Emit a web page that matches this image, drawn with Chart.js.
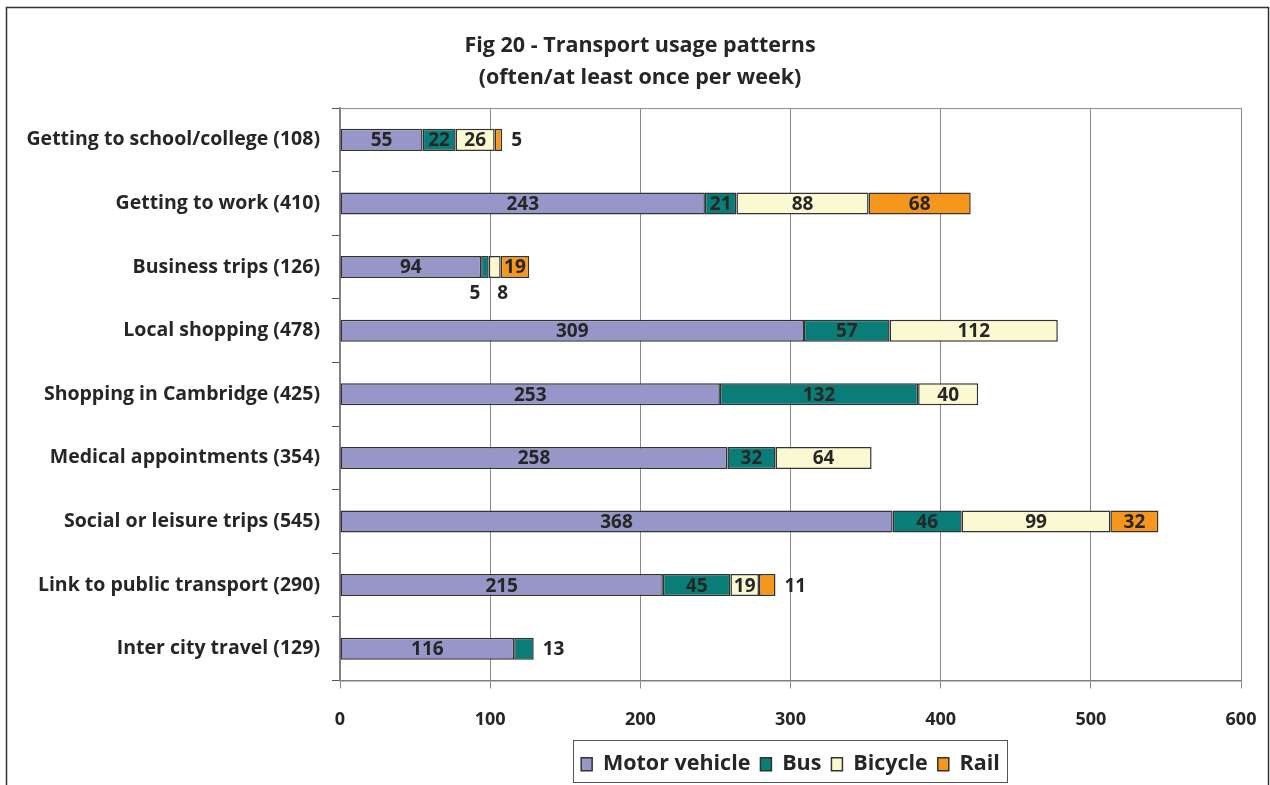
<!DOCTYPE html>
<html><head><meta charset="utf-8">
<script src="https://cdn.jsdelivr.net/npm/chart.js@4.4.0/dist/chart.umd.min.js"></script>
<style>html,body{margin:0;padding:0;background:#fff}#wrap{width:1270px;height:785px;position:relative}</style>
</head><body><div id="wrap"><canvas id="c" width="1270" height="785"></canvas></div>
<script>
const categories = [
  'Getting to school/college (108)',
  'Getting to work (410)',
  'Business trips (126)',
  'Local shopping (478)',
  'Shopping in Cambridge (425)',
  'Medical appointments (354)',
  'Social or leisure trips (545)',
  'Link to public transport (290)',
  'Inter city travel (129)'
];
const motorVehicle = [55, 243, 94, 309, 253, 258, 368, 215, 116];
const bus          = [22, 21, 5, 57, 132, 32, 46, 45, 13];
const bicycle      = [26, 88, 8, 112, 40, 64, 99, 19, null];
const rail         = [5, 68, 19, null, null, null, 32, 11, null];
const xTicks = [0, 100, 200, 300, 400, 500, 600];
const titleLines = ['Fig 20 - Transport usage patterns', '(often/at least once per week)'];

const FONT = '"Open Sans", Lato, sans-serif';
const TXT = '#262626';

const barLabels = {
  id: 'barLabels',
  afterDatasetsDraw(chart) {
    const ctx = chart.ctx;
    ctx.save();
    ctx.font = 'bold 19px ' + FONT;
    ctx.fillStyle = TXT;
    ctx.textBaseline = 'middle';
    const n = chart.data.datasets.length;
    const below = {};
    chart.data.datasets.forEach((ds, i) => {
      const meta = chart.getDatasetMeta(i);
      meta.data.forEach((bar, j) => {
        const v = ds.data[j];
        if (v == null) return;
        const p = bar.getProps(['x', 'base', 'y', 'height'], true);
        const w = Math.abs(p.x - p.base);
        const txt = String(v);
        const tw = ctx.measureText(txt).width;
        if (w >= tw + 6) {
          ctx.textAlign = 'center';
          ctx.fillText(txt, (p.x + p.base) / 2, p.y + 1);
          return;
        }
        let isLast = true;
        for (let k = i + 1; k < n; k++) if (chart.data.datasets[k].data[j] != null) isLast = false;
        if (isLast) {
          ctx.textAlign = 'left';
          ctx.fillText(txt, p.x + 9, p.y + 1);
        } else {
          (below[j] = below[j] || []).push({txt, cx: (p.x + p.base) / 2, y: p.y + p.height / 2 + 16});
        }
      });
    });
    Object.values(below).forEach(list => {
      list.forEach((it, k) => {
        let off = 0;
        if (list.length > 1) off = k === 0 ? -10 : 8;
        ctx.textAlign = 'center';
        ctx.fillText(it.txt, it.cx + off, it.y);
      });
    });
    ctx.restore();
  }
};

const frame = {
  id: 'frame',
  beforeDraw(chart) {
    const ctx = chart.ctx;
    ctx.save();
    ctx.fillStyle = '#fff';
    ctx.fillRect(0, 0, chart.width, chart.height);
    ctx.restore();
  },
  afterDraw(chart) {
    const ctx = chart.ctx;
    const a = chart.chartArea;
    ctx.save();
    ctx.strokeStyle = '#8a8a8a';
    ctx.lineWidth = 1;
    ctx.beginPath();
    ctx.moveTo(a.left, a.top + 0.5);
    ctx.lineTo(a.right, a.top + 0.5);
    ctx.stroke();
    ctx.strokeStyle = '#333';
    ctx.lineWidth = 1.5;
    ctx.strokeRect(6.5, 7.5, 1262, 800);
    const lg = chart.legend;
    if (lg && lg.legendHitBoxes && lg.legendHitBoxes.length) {
      const hb = lg.legendHitBoxes;
      let l = Infinity, r = -Infinity;
      hb.forEach(h => { l = Math.min(l, h.left); r = Math.max(r, h.left + h.width); });
      ctx.strokeStyle = '#555';
      ctx.lineWidth = 1;
      ctx.strokeRect(Math.round(l) - 7.5, 740.5, Math.round(r - l) + 15, 42);
    }
    ctx.restore();
  }
};

const common = { borderColor: '#333', borderWidth: 1.5, borderSkipped: false, barPercentage: 0.346, categoryPercentage: 1 };

new Chart(document.getElementById('c'), {
  type: 'bar',
  data: {
    labels: categories,
    datasets: [
      Object.assign({ label: 'Motor vehicle', data: motorVehicle, backgroundColor: '#9696c8' }, common),
      Object.assign({ label: 'Bus', data: bus, backgroundColor: '#0b7d78' }, common),
      Object.assign({ label: 'Bicycle', data: bicycle, backgroundColor: '#fbf9d2' }, common),
      Object.assign({ label: 'Rail', data: rail, backgroundColor: '#f7961d' }, common)
    ]
  },
  options: {
    indexAxis: 'y',
    responsive: false,
    animation: false,
    devicePixelRatio: 1,
    layout: { padding: { left: 10, right: 0, top: 0, bottom: 0 } },
    plugins: {
      title: {
        display: true,
        text: titleLines,
        color: TXT,
        font: { family: FONT, size: 21.5, weight: 'bold', lineHeight: 1.49 },
        padding: { top: 30, bottom: 14 }
      },
      legend: {
        position: 'bottom',
        fullSize: false,
        labels: {
          color: TXT,
          font: { family: FONT, size: 21.5, weight: 'bold' },
          boxWidth: 11,
          boxHeight: 13,
          padding: 10,
          generateLabels(chart) {
            return chart.data.datasets.map((ds, i) => ({
              text: ds.label, fillStyle: ds.backgroundColor, strokeStyle: '#333', lineWidth: 1.5,
              fontColor: TXT, datasetIndex: i, hidden: false
            }));
          }
        }
      },
      tooltip: { enabled: false }
    },
    scales: {
      x: {
        stacked: true,
        min: 0, max: 600,
        afterBuildTicks(scale) { scale.ticks = xTicks.map(v => ({ value: v })); },
        afterFit(scale) { scale.height = 63; scale.paddingRight = 29; },
        grid: { color: '#8a8a8a', lineWidth: 1, tickLength: 8, drawTicks: true },
        border: { color: '#7f7f7f', width: 1.5 },
        ticks: { color: TXT, font: { family: FONT, size: 18, weight: 'bold' }, padding: 21, maxRotation: 0 }
      },
      y: {
        stacked: true,
        afterFit(scale) { scale.width = 330; },
        grid: { drawOnChartArea: false, color: '#555', tickLength: 8, offset: true },
        border: { color: '#7f7f7f', width: 1.5 },
        ticks: { color: TXT, font: { family: FONT, size: 19.5, weight: 'bold' }, padding: 12, autoSkip: false }
      }
    }
  },
  plugins: [frame, barLabels]
});
</script>
</body></html>
